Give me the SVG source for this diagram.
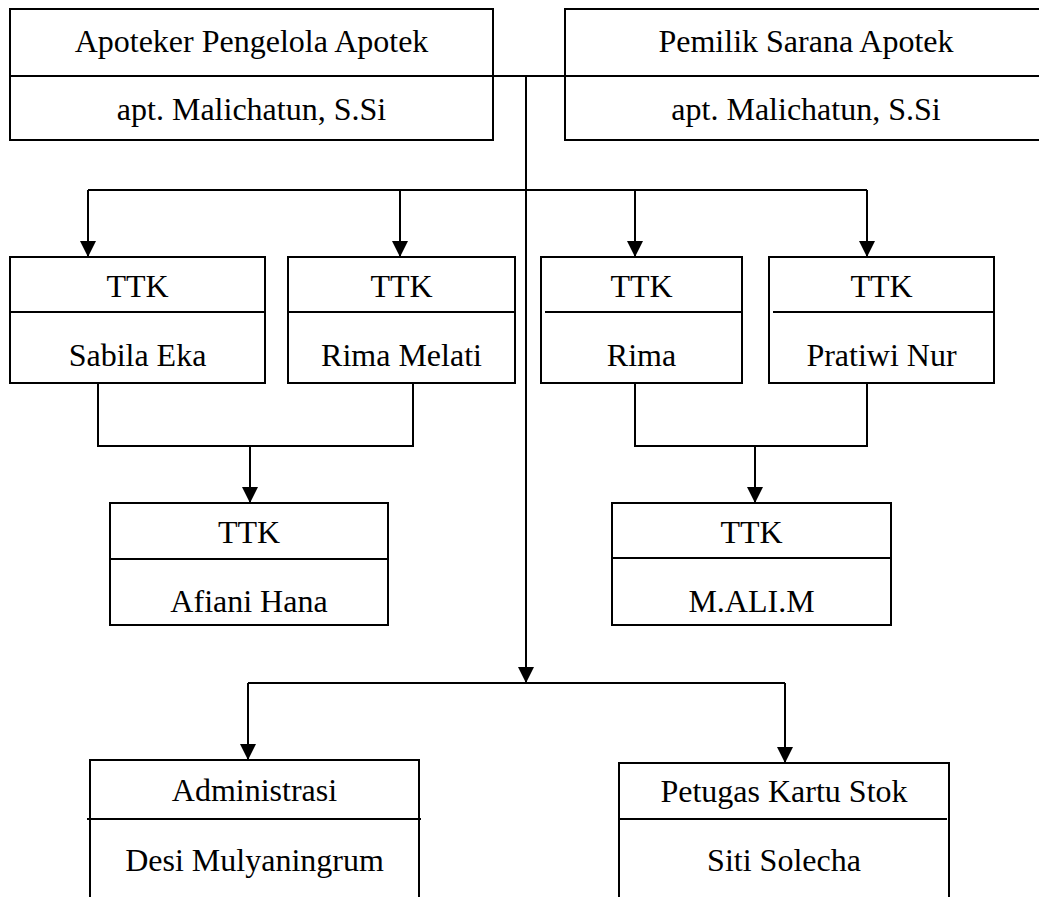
<svg xmlns="http://www.w3.org/2000/svg" width="1039" height="897" viewBox="0 0 1039 897">
<style>
.box{fill:#fff;stroke:#000;stroke-width:2}
.div{stroke:#000;stroke-width:2}
.t{font-size:32px;fill:#000;text-anchor:middle}
.c{fill:none;stroke:#000;stroke-width:2}
</style>
<defs>
<marker id="arr" markerUnits="userSpaceOnUse" markerWidth="16" markerHeight="16" viewBox="0 0 16 16" refX="16" refY="8" orient="auto">
<path d="M0,0 L16,8 L0,16 Z" fill="#000"/>
</marker>
</defs>
<rect width="1039" height="897" fill="#fff"/>
<g id="connectors">
<path class="c" d="M493,76 H565"/>
<path class="c" d="M526,76 V683" marker-end="url(#arr)"/>
<path class="c" d="M88,190 H867"/>
<path class="c" d="M88,190 V257" marker-end="url(#arr)"/>
<path class="c" d="M400,190 V257" marker-end="url(#arr)"/>
<path class="c" d="M635,190 V257" marker-end="url(#arr)"/>
<path class="c" d="M867,190 V257" marker-end="url(#arr)"/>
<path class="c" d="M98,383 V446 H413 V383"/>
<path class="c" d="M250,446 V503" marker-end="url(#arr)"/>
<path class="c" d="M635,383 V446 H867 V383"/>
<path class="c" d="M755,446 V503" marker-end="url(#arr)"/>
<path class="c" d="M248,683 H785"/>
<path class="c" d="M248,683 V760" marker-end="url(#arr)"/>
<path class="c" d="M785,683 V763" marker-end="url(#arr)"/>
</g>
<g font-family="'Liberation Serif', 'Times New Roman', 'DejaVu Serif', serif">
<g id="apoteker">
<rect class="box" x="10" y="9" width="483" height="131"/>
<line class="div" x1="10" y1="76" x2="493" y2="76"/>
<text class="t" x="251.5" y="52">Apoteker Pengelola Apotek</text>
<text class="t" x="251.5" y="120">apt. Malichatun, S.Si</text>
</g>
<g id="pemilik">
<rect class="box" x="565" y="9" width="482" height="131"/>
<line class="div" x1="565" y1="76" x2="1047" y2="76"/>
<text class="t" x="806" y="52">Pemilik Sarana Apotek</text>
<text class="t" x="806" y="120">apt. Malichatun, S.Si</text>
</g>
<g id="ttk-sabila">
<rect class="box" x="10" y="257" width="255" height="126"/>
<line class="div" x1="10" y1="312" x2="265" y2="312"/>
<text class="t" x="137.5" y="297">TTK</text>
<text class="t" x="137.5" y="366">Sabila Eka</text>
</g>
<g id="ttk-rima-melati">
<rect class="box" x="288" y="257" width="227" height="126"/>
<line class="div" x1="288" y1="312" x2="515" y2="312"/>
<text class="t" x="401.5" y="297">TTK</text>
<text class="t" x="401.5" y="366">Rima Melati</text>
</g>
<g id="ttk-rima">
<rect class="box" x="541" y="257" width="201" height="126"/>
<line class="div" x1="545" y1="312" x2="742" y2="312"/>
<text class="t" x="641.5" y="297">TTK</text>
<text class="t" x="641.5" y="366">Rima</text>
</g>
<g id="ttk-pratiwi">
<rect class="box" x="769" y="257" width="225" height="126"/>
<line class="div" x1="773" y1="312" x2="994" y2="312"/>
<text class="t" x="881.5" y="297">TTK</text>
<text class="t" x="881.5" y="366">Pratiwi Nur</text>
</g>
<g id="ttk-afiani">
<rect class="box" x="110" y="503" width="278" height="122"/>
<line class="div" x1="110" y1="559" x2="388" y2="559"/>
<text class="t" x="249" y="543">TTK</text>
<text class="t" x="249" y="612">Afiani Hana</text>
</g>
<g id="ttk-mali">
<rect class="box" x="612" y="503" width="279" height="122"/>
<line class="div" x1="612" y1="558" x2="891" y2="558"/>
<text class="t" x="751.5" y="543">TTK</text>
<text class="t" x="751.5" y="612">M.ALI.M</text>
</g>
<g id="administrasi">
<rect class="box" x="90" y="760" width="329" height="150"/>
<line class="div" x1="87" y1="819" x2="421" y2="819"/>
<text class="t" x="254.5" y="801">Administrasi</text>
<text class="t" x="254.5" y="871">Desi Mulyaningrum</text>
</g>
<g id="petugas">
<rect class="box" x="619" y="763" width="330" height="147"/>
<line class="div" x1="619" y1="819" x2="947" y2="819"/>
<text class="t" x="784" y="802">Petugas Kartu Stok</text>
<text class="t" x="784" y="871">Siti Solecha</text>
</g>
</g>
</svg>
